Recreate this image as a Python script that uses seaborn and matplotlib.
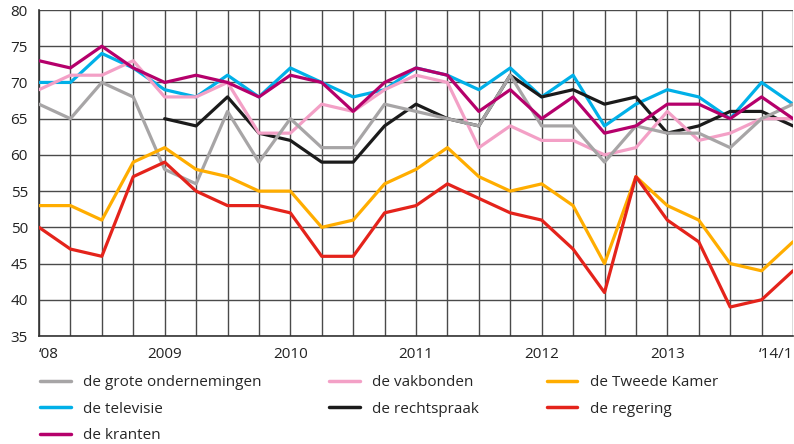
import numpy as np
import pandas as pd
import seaborn as sns
import matplotlib.pyplot as plt
from matplotlib.lines import Line2D

# kwartalen 2008-1 t/m 2014-1
kwartalen = list(range(25))
jaar_labels = {0: "\u201808", 4: "2009", 8: "2010", 12: "2011", 16: "2012", 20: "2013", 24: "\u201814/1"}

grote_ondernemingen = [67, 65, 70, 68, 58, 56, 66, 59, 65, 61, 61, 67, 66, 65, 64, 71,
                       64, 64, 59, 64, 63, 63, 61, 65, 67]
televisie = [70, 70, 74, 72, 69, 68, 71, 68, 72, 70, 68, 69, 72, 71, 69, 72,
             68, 71, 64, 67, 69, 68, 65, 70, 67]
kranten = [73, 72, 75, 72, 70, 71, 70, 68, 71, 70, 66, 70, 72, 71, 66, 69,
           65, 68, 63, 64, 67, 67, 65, 68, 65]
vakbonden = [69, 71, 71, 73, 68, 68, 70, 63, 63, 67, 66, 69, 71, 70, 61, 64,
             62, 62, 60, 61, 66, 62, 63, 65, 65]
rechtspraak = [np.nan, np.nan, np.nan, np.nan, 65, 64, 68, 63, 62, 59, 59, 64, 67, 65, 64, 71,
               68, 69, 67, 68, 63, 64, 66, 66, 64]
tweede_kamer = [53, 53, 51, 59, 61, 58, 57, 55, 55, 50, 51, 56, 58, 61, 57, 55,
                56, 53, 45, 57, 53, 51, 45, 44, 48]
regering = [50, 47, 46, 57, 59, 55, 53, 53, 52, 46, 46, 52, 53, 56, 54, 52,
            51, 47, 41, 57, 51, 48, 39, 40, 44]

reeksen = {
    "de grote ondernemingen": grote_ondernemingen,
    "de televisie": televisie,
    "de kranten": kranten,
    "de vakbonden": vakbonden,
    "de rechtspraak": rechtspraak,
    "de Tweede Kamer": tweede_kamer,
    "de regering": regering,
}
kleuren = {
    "de grote ondernemingen": "#a7a5a6",
    "de televisie": "#00b0e8",
    "de kranten": "#b5006b",
    "de vakbonden": "#f3a0c6",
    "de rechtspraak": "#1b1b1b",
    "de Tweede Kamer": "#ffad00",
    "de regering": "#e4231b",
}
legenda_volgorde = list(reeksen.keys())
teken_volgorde = ["de televisie", "de rechtspraak", "de vakbonden", "de grote ondernemingen",
                  "de kranten", "de Tweede Kamer", "de regering"]

rijen = []
for naam, waarden in reeksen.items():
    for k, w in zip(kwartalen, waarden):
        if not np.isnan(w):
            rijen.append({"kwartaal": k, "waarde": w, "instelling": naam})
df = pd.DataFrame(rijen)

sns.set_style("white")
plt.rcParams["font.family"] = ["Open Sans", "DejaVu Sans"]

fig = plt.figure(figsize=(7.94, 4.44), dpi=100)
ax = fig.add_axes([39 / 794, 1 - 336 / 444, (793 - 39) / 794, (336 - 10) / 444])

sns.lineplot(data=df, x="kwartaal", y="waarde", hue="instelling", hue_order=teken_volgorde,
             palette=kleuren, linewidth=2.3, legend=False, ax=ax, zorder=3)

ax.set_xlim(0, 24)
ax.set_ylim(35, 80)
ax.set_xticks(kwartalen)
ax.set_xticklabels([jaar_labels.get(k, "") for k in kwartalen])
ax.set_yticks(range(35, 81, 5))
for lab in ax.get_xticklabels():
    if lab.get_text() == "\u201808":
        lab.set_ha("left")
    elif lab.get_text() == "\u201814/1":
        lab.set_ha("right")
ax.grid(True, color="#4a4a4a", linewidth=1.0)
ax.set_axisbelow(True)
ax.tick_params(axis="x", length=5, width=1, color="#333333", pad=3, labelsize=11, labelcolor="#222222")
ax.tick_params(axis="y", length=0, pad=8, labelsize=11, labelcolor="#222222")
for s in ["top", "right"]:
    ax.spines[s].set_visible(False)
for s in ["left", "bottom"]:
    ax.spines[s].set_color("#333333")
    ax.spines[s].set_linewidth(1.2)
ax.set_xlabel("")
ax.set_ylabel("")

handles = [Line2D([0], [0], color=kleuren[n], linewidth=2.5) for n in legenda_volgorde]
fig.legend(handles, legenda_volgorde, loc="upper left", bbox_to_anchor=(40 / 794, 1 - 375 / 444),
           ncol=3, frameon=False, fontsize=11, handlelength=2.0, handletextpad=0.8,
           columnspacing=4.45, labelspacing=0.76, borderpad=0, borderaxespad=0)

fig.savefig("out.png", dpi=100)
